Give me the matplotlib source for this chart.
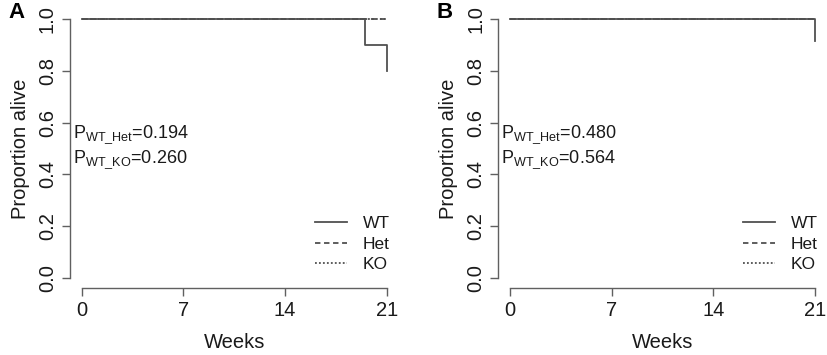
import matplotlib
matplotlib.use("Agg")
import matplotlib.pyplot as plt

plt.rcParams['font.family'] = ['Liberation Sans', 'DejaVu Sans']
plt.rcParams['mathtext.fontset'] = 'custom'
plt.rcParams['mathtext.rm'] = 'Liberation Sans'
plt.rcParams['mathtext.default'] = 'regular'

# ---- data ----
panels = ["A", "B"]
weeks_wt_A = [0, 19.5, 21]
surv_wt_A = [1.0, 0.9, 0.8]
weeks_het_A = [0, 21]
surv_het_A = [1.0, 1.0]
weeks_ko_A = [0, 21]
surv_ko_A = [1.0, 1.0]

weeks_wt_B = [0, 21]
surv_wt_B = [1.0, 0.917]
weeks_het_B = [0, 21]
surv_het_B = [1.0, 1.0]
weeks_ko_B = [0, 21]
surv_ko_B = [1.0, 1.0]

p_het = ["0.194", "0.480"]
p_ko = ["0.260", "0.564"]

x_ticks = [0, 7, 14, 21]
y_ticks = [0.0, 0.2, 0.4, 0.6, 0.8, 1.0]
y_tick_labels = ["0.0", "0.2", "0.4", "0.6", "0.8", "1.0"]
legend_labels = ["WT", "Het", "KO"]

data = {
    "A": (weeks_wt_A, surv_wt_A, weeks_het_A, surv_het_A, weeks_ko_A, surv_ko_A),
    "B": (weeks_wt_B, surv_wt_B, weeks_het_B, surv_het_B, weeks_ko_B, surv_ko_B),
}

fig = plt.figure(figsize=(8.27, 3.55), dpi=100)
lefts = [69.5 / 827, 497.8 / 827]
W = 329.5 / 827
B = (355 - 288) / 355
H = 279 / 355

line_col = '#505050'
axis_col = '#606060'
txt_col = '#1a1a1a'

for i, p in enumerate(panels):
    ax = fig.add_axes([lefts[i], B, W, H])
    wx, wy, hx, hy, kx, ky = data[p]
    lk, = ax.step(kx, ky, where='post', color=line_col, lw=1.3, linestyle=(0, (1, 1.2)))
    lh, = ax.step(hx, hy, where='post', color=line_col, lw=1.3, linestyle=(0, (3, 2)))
    lw_, = ax.step(wx, wy, where='post', color=line_col, lw=1.3)
    ax.set_xlim(-0.84, 21.84)
    ax.set_ylim(-0.04, 1.04)
    for s in ['top', 'right']:
        ax.spines[s].set_visible(False)
    ax.spines['left'].set_bounds(0, 1)
    ax.spines['bottom'].set_bounds(0, 21)
    for s in ['left', 'bottom']:
        ax.spines[s].set_color(axis_col)
        ax.spines[s].set_linewidth(1.0)
    ax.set_xticks(x_ticks)
    ax.set_xticklabels([str(t) for t in x_ticks])
    ax.set_yticks(y_ticks)
    ax.set_yticklabels(y_tick_labels, rotation=90, va='center')
    ax.tick_params(axis='both', length=6, width=1.0, color=axis_col,
                   labelsize=14.5, labelcolor=txt_col, pad=3)
    ax.set_xlabel("Weeks", fontsize=14.5, color=txt_col, labelpad=10)
    ax.set_ylabel("Proportion alive", fontsize=14.5, color=txt_col, labelpad=6)
    ax.text(0.011, 0.548, r'P$_{WT\_Het}$=' + p_het[i], transform=ax.transAxes,
            fontsize=13, color=txt_col, va='center', ha='left')
    ax.text(0.011, 0.459, r'P$_{WT\_KO}$=' + p_ko[i], transform=ax.transAxes,
            fontsize=13, color=txt_col, va='center', ha='left')
    ax.legend([lw_, lh, lk], legend_labels, loc='upper left',
              bbox_to_anchor=(0.745, 0.257), frameon=False, fontsize=12.5,
              handlelength=1.85, handletextpad=0.9, labelspacing=0.3,
              borderpad=0, borderaxespad=0, labelcolor=txt_col)
    fig.text(lefts[i] - 61 / 827, 1 - 12 / 355, p, fontsize=16, fontweight='bold',
             color='black', va='center', ha='left')

fig.savefig("out.png", dpi=100)
